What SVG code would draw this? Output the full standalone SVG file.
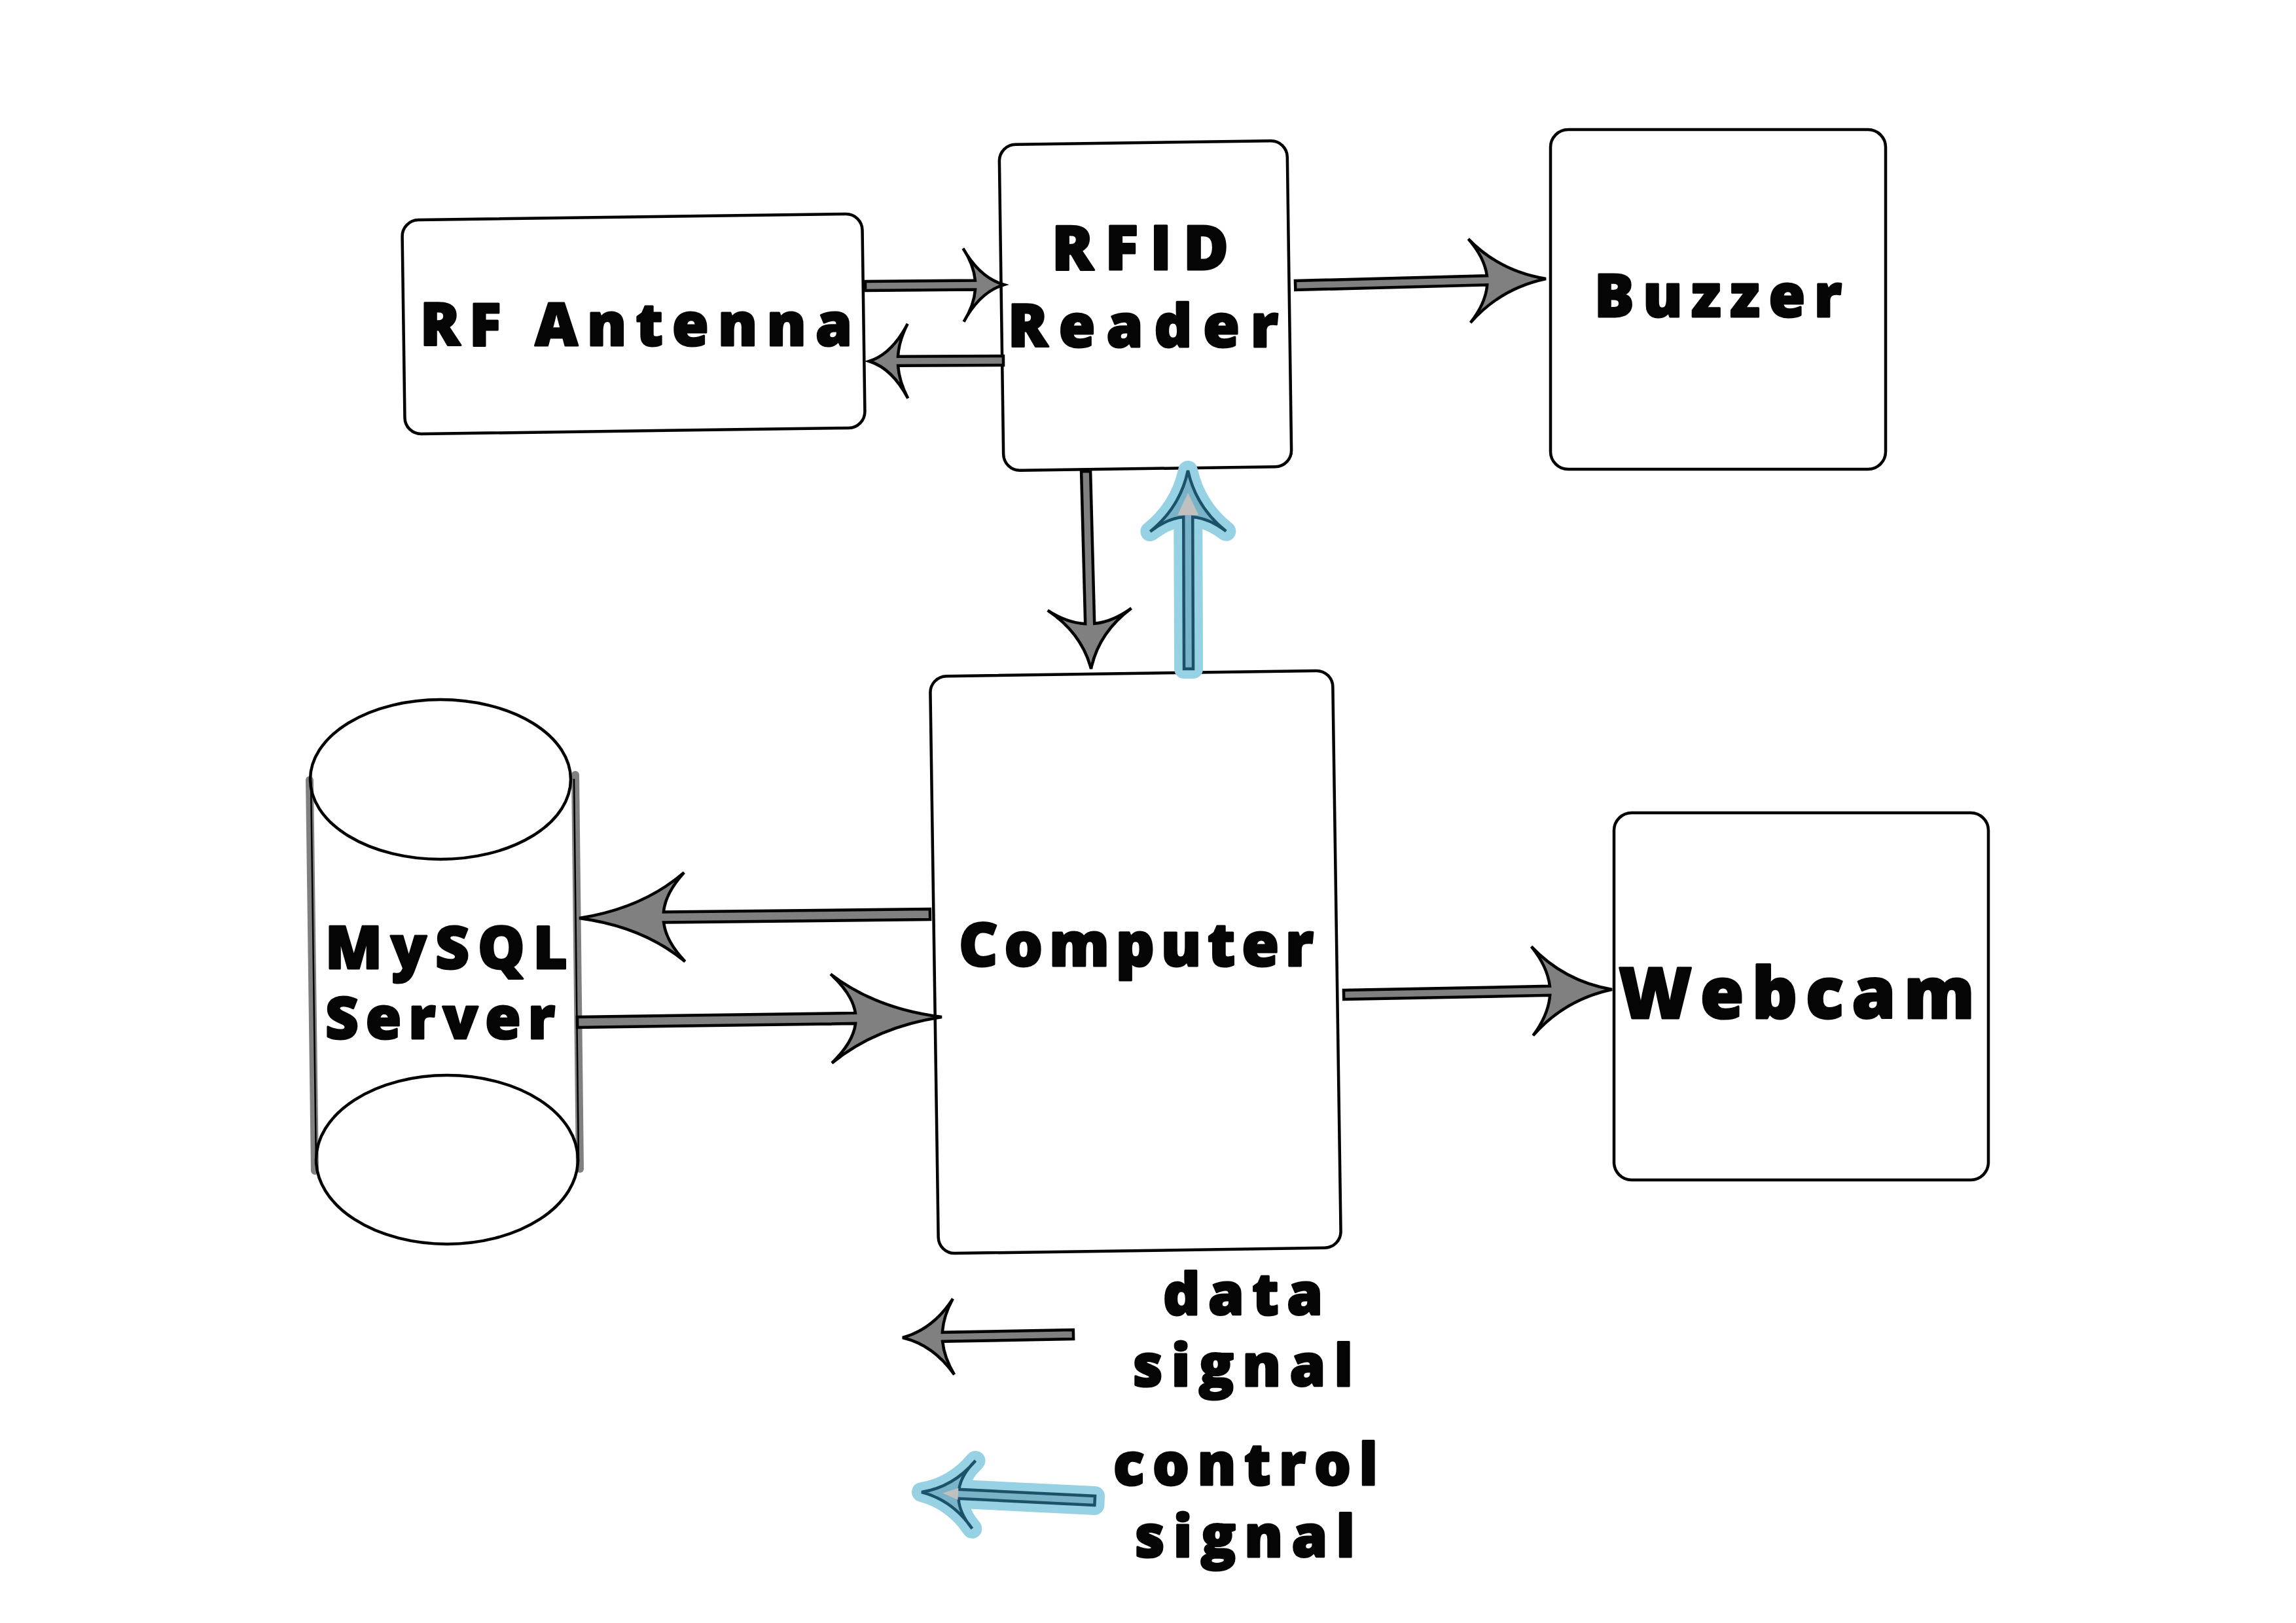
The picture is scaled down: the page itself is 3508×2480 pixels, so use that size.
<svg xmlns="http://www.w3.org/2000/svg" width="3508" height="2480" viewBox="0 0 3508 2480">
<style>
.box{fill:#fff;stroke:#000;stroke-width:4.5}
.lbl{font-family:"Open Sans","DejaVu Sans",sans-serif;font-weight:800;fill:#050505;stroke:#050505;stroke-width:3;stroke-linejoin:round}
.arr{fill:#808080;stroke:#000;stroke-width:4.5;stroke-linejoin:miter}
.halo{fill:#96d1e4;stroke:#96d1e4;stroke-width:30;stroke-linejoin:round;stroke-linecap:round}
.carr{fill:#78b3c8;stroke:#1c5269;stroke-width:4.5}
.tipg{fill:#c0c0c0;stroke:none}
</style>
<rect width="3508" height="2480" fill="#fff"/>

<g id="rf-antenna">
<rect class="box" x="616.5" y="331.5" width="703" height="327" rx="25" transform="rotate(-0.8 968 495)"/>
<text class="lbl" x="642" y="528" font-size="90" textLength="660" lengthAdjust="spacing">RF Antenna</text>
</g>

<g id="rfid-reader">
<rect class="box" x="1530" y="218" width="440" height="498" rx="25" transform="rotate(-0.8 1750 467)"/>
<text class="lbl" x="1607" y="412" font-size="94" textLength="270" lengthAdjust="spacing">RFID</text>
<text class="lbl" x="1540" y="530" font-size="90" textLength="413" lengthAdjust="spacing">Reader</text>
</g>

<g id="buzzer">
<rect class="box" x="2369" y="198" width="512" height="519" rx="27"/>
<text class="lbl" x="2436" y="484" font-size="90" textLength="378" lengthAdjust="spacing">Buzzer</text>
</g>

<g id="computer">
<rect class="box" x="1427.5" y="1029" width="615" height="882" rx="25" transform="rotate(-0.84 1735 1470)"/>
<text class="lbl" x="1465" y="1476" font-size="92" textLength="542" lengthAdjust="spacing">Computer</text>
</g>

<g id="webcam">
<rect class="box" x="2466" y="1242" width="572" height="561" rx="27"/>
<text class="lbl" x="2473" y="1556" font-size="108" textLength="544" lengthAdjust="spacing">Webcam</text>
</g>

<g id="mysql-server">
<line x1="473" y1="1192" x2="481" y2="1789" stroke="#808080" stroke-width="12" stroke-linecap="round"/>
<line x1="879" y1="1184" x2="886" y2="1786" stroke="#808080" stroke-width="12" stroke-linecap="round"/>
<line x1="475" y1="1192" x2="483" y2="1780" stroke="#000" stroke-width="2.5"/>
<line x1="877" y1="1190" x2="884" y2="1775" stroke="#000" stroke-width="2.5"/>
<ellipse cx="673" cy="1191" rx="199" ry="122" fill="none" stroke="#000" stroke-width="4.5"/>
<ellipse cx="683" cy="1772" rx="200" ry="129" fill="none" stroke="#000" stroke-width="4.5"/>
<text class="lbl" x="497" y="1480" font-size="90" textLength="370" lengthAdjust="spacing">MySQL</text>
<text class="lbl" x="497" y="1587" font-size="88" textLength="351" lengthAdjust="spacing">Server</text>
</g>

<g id="connectors">
<path class="arr" transform="translate(1534,435) rotate(-0.54)" d="M-212,-7 L-44,-7 Q-46,-31 -62,-56 Q-37,-11 0,0 Q-37,11 -62,56 Q-46,31 -44,7 L-212,7 Z"/>
<path class="arr" transform="translate(1328,552) rotate(179.7)" d="M-205,-7 L-44,-7 Q-45.5,-31 -59,-57 Q-35,-11 0,0 Q-35,11 -59,57 Q-45.5,31 -44,7 L-205,7 Z"/>
<path class="arr" transform="translate(2362,426) rotate(-1.5)" d="M-383,-7 L-90,-7 Q-93,-35 -117,-64 Q-70,-13 0,0 Q-70,13 -117,64 Q-93,35 -90,7 L-383,7 Z"/>
<path class="arr" transform="translate(1667,1022) rotate(88.5)" d="M-302,-7 L-69,-7 Q-71,-35 -91,-64 Q-55,-13 0,0 Q-55,13 -91,64 Q-71,35 -69,7 L-302,7 Z"/>
<g transform="translate(1815,719) rotate(-90.2)">
<path class="halo" d="M-303,-7 L-71,-7 Q-73,-32 -93,-58 Q-56,-12 0,0 Q-56,12 -93,58 Q-73,32 -71,7 L-303,7 Z"/>
<path class="carr" d="M-303,-7 L-71,-7 Q-73,-32 -93,-58 Q-56,-12 0,0 Q-56,12 -93,58 Q-73,32 -71,7 L-303,7 Z"/>
<path class="tipg" d="M-34,0 L-68,-16 L-68,16 Z"/>
</g>
<path class="arr" transform="translate(885,1403) rotate(179.36)" d="M-536,-8 L-129,-8 Q-132,-37 -161,-68 Q-97,-14 0,0 Q-97,14 -161,68 Q-132,37 -129,8 L-536,8 Z"/>
<path class="arr" transform="translate(1439,1554) rotate(-0.82)" d="M-557,-8 L-132,-8 Q-136,-37 -169,-68 Q-101,-14 0,0 Q-101,14 -169,68 Q-136,37 -132,8 L-557,8 Z"/>
<path class="arr" transform="translate(2463,1512) rotate(-1.12)" d="M-410,-7 L-95,-7 Q-98,-37 -122,-68 Q-73,-14 0,0 Q-73,14 -122,68 Q-98,37 -95,7 L-410,7 Z"/>
</g>

<g id="legend">
<path class="arr" transform="translate(1379,2044) rotate(178.9)" d="M-261,-7 L-61,-7 Q-63,-32 -78,-58 Q-47,-12 0,0 Q-47,12 -78,58 Q-63,32 -61,7 L-261,7 Z"/>
<g transform="translate(1408,2280) rotate(182.8)">
<path class="halo" d="M-265,-7 L-57,-7 Q-59,-29 -80,-52 Q-48,-10 0,0 Q-48,10 -80,52 Q-59,29 -57,7 L-265,7 Z"/>
<path class="carr" d="M-265,-7 L-57,-7 Q-59,-29 -80,-52 Q-48,-10 0,0 Q-48,10 -80,52 Q-59,29 -57,7 L-265,7 Z"/>
<path class="tipg" d="M-32,0 L-56,-9 L-56,9 Z"/>
</g>
<text class="lbl" x="1777" y="2009" font-size="88" textLength="244" lengthAdjust="spacing">data</text>
<text class="lbl" x="1731" y="2118" font-size="88" textLength="336" lengthAdjust="spacing">signal</text>
<text class="lbl" x="1701" y="2269" font-size="88" textLength="404" lengthAdjust="spacing">control</text>
<text class="lbl" x="1734" y="2379" font-size="88" textLength="336" lengthAdjust="spacing">signal</text>
</g>
</svg>
